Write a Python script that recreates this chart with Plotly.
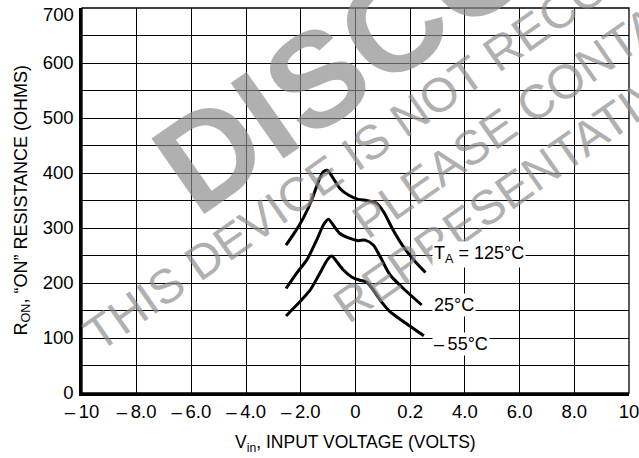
import math
import plotly.graph_objects as go

# ---------------- data ----------------
x_tickvals = [-10, -8, -6, -4, -2, 0, 2, 4, 6, 8, 10]
x_ticktext = ["\u2013\u200910", "\u2013\u20098.0", "\u2013\u20096.0", "\u2013\u20094.0",
              "\u2013\u20092.0", "0", "0.2", "4.0", "6.0", "8.0", "10"]
y_tickvals = [0, 100, 200, 300, 400, 500, 600, 700]
y_ticktext = ["0", "100", "200", "300", "400", "500", "600", ""]
y_top_label = "700"

v_125 = [-2.54, -2.21, -1.91, -1.60, -1.36, -1.18, -1.03, -0.81, -0.57, -0.26,
         0.10, 0.29, 0.77, 1.02, 1.38, 1.75, 2.18, 2.56]
r_125 = [269, 293, 318, 351, 384, 402, 405, 390, 372, 360,
         352, 351, 345, 330, 296, 266, 239, 219]

v_25 = [-2.54, -2.15, -1.78, -1.42, -1.18, -0.99, -0.81, -0.57, -0.20, 0.10,
        0.35, 0.65, 0.90, 1.26, 1.75, 2.42]
r_25 = [190, 218, 242, 278, 305, 316, 305, 290, 281, 277,
        278, 269, 248, 215, 190, 160]

v_m55 = [-2.54, -2.09, -1.66, -1.30, -1.03, -0.87, -0.69, -0.45, -0.14, 0.16,
         0.41, 0.65, 0.90, 1.26, 1.75, 2.50]
r_m55 = [140, 163, 187, 218, 242, 249, 239, 224, 211, 205,
         202, 187, 169, 148, 130, 104]

labels = ["T<sub>A</sub> = 125\u00b0C", "25\u00b0C", "\u2013\u200955\u00b0C"]
label_x = [2.80, 2.80, 2.80]
label_y = [251, 160, 89]

wm_big = "DISCONTINUED"
wm_lines = ["THIS DEVICE IS NOT RECOMMENDED FOR NEW DESIGN",
            "PLEASE CONTACT YOUR ON SEMICONDUCTOR",
            "REPRESENTATIVE FOR INFORMATION"]

# ---------------- styling / layout ----------------
W, H = 639, 458
ML, MR, MT, MB = 82, 10, 8, 65
PW, PH = W - ML - MR, H - MT - MB
FONT = "Liberation Sans, Arial, Helvetica, sans-serif"

fig = go.Figure()
for xs, ys in [(v_125, r_125), (v_25, r_25), (v_m55, r_m55)]:
    fig.add_trace(go.Scatter(x=xs, y=ys, mode="lines",
                             line=dict(color="black", width=3, shape="spline", smoothing=0.7),
                             showlegend=False, hoverinfo="skip"))

fig.update_xaxes(range=[-10, 10], tickvals=x_tickvals, ticktext=x_ticktext,
                 showgrid=True, gridcolor="black", gridwidth=1,
                 showline=True, linecolor="black", linewidth=2.6,
                 zeroline=False, ticks="", ticklabelstandoff=0,
                 ticklabeloverflow="allow", automargin=False,
                 tickfont=dict(family=FONT, size=18.5, color="black"))
fig.update_yaxes(range=[0, 700], tickvals=y_tickvals, ticktext=y_ticktext,
                 showgrid=True, gridcolor="black", gridwidth=1,
                 minor=dict(dtick=50, showgrid=True, gridcolor="black", gridwidth=1),
                 showline=True, linecolor="black", linewidth=2.6,
                 zeroline=False, ticks="", ticklabelstandoff=2,
                 ticklabeloverflow="allow", automargin=False,
                 tickfont=dict(family=FONT, size=18.5, color="black"))

fig.add_shape(type="rect", xref="paper", yref="paper", x0=0, y0=0, x1=1, y1=1,
              line=dict(color="black", width=1.3), layer="above")

# ---------------- watermark ----------------
AW = {"A": .667, "B": .667, "C": .722, "D": .722, "E": .667, "F": .611, "G": .778, "H": .722,
      "I": .278, "J": .5, "K": .667, "L": .556, "M": .833, "N": .722, "O": .778, "P": .667,
      "Q": .778, "R": .722, "S": .667, "T": .611, "U": .722, "V": .667, "W": .944, "X": .667,
      "Y": .667, "Z": .611, " ": .278}
AWB = dict(AW, A=.722, B=.722, R=.722)
ang = math.radians(35)
d = (math.cos(ang), -math.sin(ang))
nu = (-math.sin(ang), -math.cos(ang))


def center_paper(start, text, size, table, up=0.32):
    wpx = sum(table.get(c, .667) for c in text) * size
    cx = start[0] + wpx / 2 * d[0] + up * size * nu[0]
    cy = start[1] + wpx / 2 * d[1] + up * size * nu[1]
    return (cx - ML) / PW, (MT + PH - cy) / PH


BIG = 134
SMALL = 48
p0 = (98, 352)
starts = [p0,
          (p0[0] + 282 * d[0] - 62 * nu[0], p0[1] + 282 * d[1] - 62 * nu[1]),
          (p0[0] + 215 * d[0] - 120 * nu[0], p0[1] + 215 * d[1] - 120 * nu[1])]

bx, by = center_paper((195, 216), wm_big, BIG, AWB)
fig.add_annotation(x=bx, y=by, xref="paper", yref="paper", text="<b>" + wm_big + "</b>",
                   showarrow=False, textangle=-35, xanchor="center", yanchor="middle",
                   font=dict(family="Liberation Sans, Arial", size=BIG, color="rgb(140,140,140)"),
                   opacity=0.68)
for st, txt in zip(starts, wm_lines):
    cx, cy = center_paper(st, txt, SMALL, AW)
    fig.add_annotation(x=cx, y=cy, xref="paper", yref="paper", text=txt,
                       showarrow=False, textangle=-35, xanchor="center", yanchor="middle",
                       font=dict(family="Liberation Sans, Arial", size=SMALL, color="rgb(140,140,140)"),
                       opacity=0.68)

# ---------------- curve labels ----------------
for t, lx, ly in zip(labels, label_x, label_y):
    fig.add_annotation(x=lx, y=ly, xref="x", yref="y", text=t, showarrow=False,
                       xanchor="left", yanchor="middle", bgcolor="white", borderpad=1,
                       font=dict(family=FONT, size=18, color="black"))

# top y label kept inside the page, as in the reference
fig.add_annotation(x=(76 - ML) / PW, y=(MT + PH - 14) / PH, xref="paper", yref="paper",
                   text=y_top_label, showarrow=False, xanchor="right", yanchor="middle",
                   font=dict(family=FONT, size=18.5, color="black"))

# ---------------- axis titles ----------------
fig.add_annotation(x=0.5, y=(MT + PH - 443) / PH, xref="paper", yref="paper",
                   text="V<sub>in</sub>, INPUT VOLTAGE (VOLTS)", showarrow=False,
                   xanchor="center", yanchor="middle",
                   font=dict(family=FONT, size=17.5, color="black"))
fig.add_annotation(x=(22 - ML) / PW, y=0.5, xref="paper", yref="paper",
                   text="R<sub>ON</sub>, \u201cON\u201d RESISTANCE (OHMS)", showarrow=False,
                   textangle=-90, xanchor="center", yanchor="middle",
                   font=dict(family=FONT, size=18, color="black"))

fig.update_layout(width=W, height=H, margin=dict(l=ML, r=MR, t=MT, b=MB, autoexpand=False),
                  paper_bgcolor="white", plot_bgcolor="white", showlegend=False)

fig.write_html("out.html", config={"displayModeBar": False},
               post_script="document.body.style.margin='0';")
